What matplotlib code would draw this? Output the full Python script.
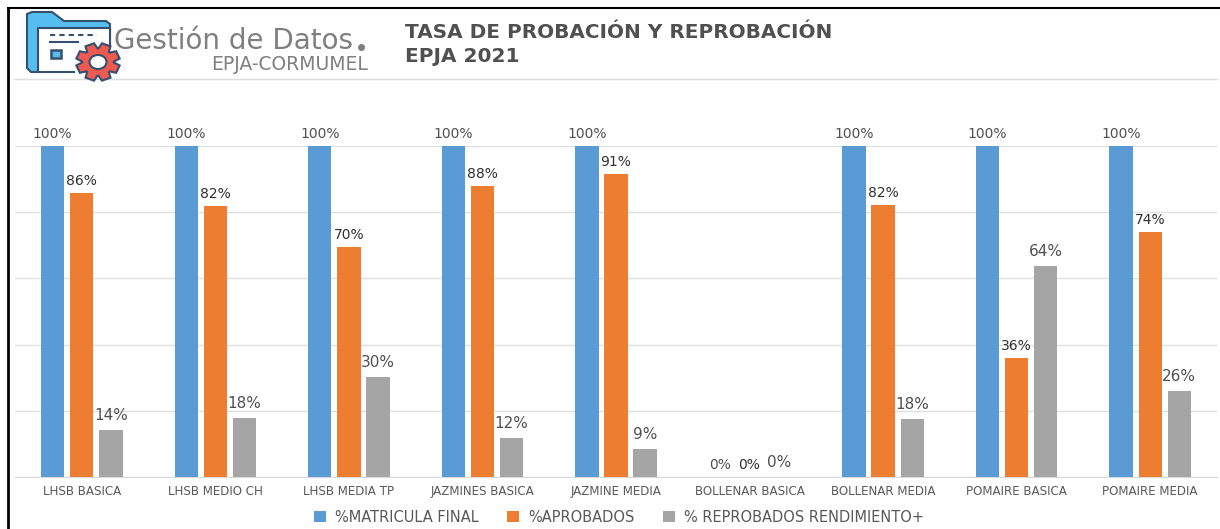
#!/usr/bin/env python3
"""Tasa de probacion y reprobacion EPJA 2021, grouped bars with header logo."""

import numpy as np
import matplotlib
matplotlib.use("Agg")
import matplotlib.pyplot as plt
from matplotlib.patches import Ellipse, Polygon, Rectangle

categories = [
    "LHSB BASICA", "LHSB MEDIO CH", "LHSB MEDIA TP", "JAZMINES BASICA",
    "JAZMINE MEDIA", "BOLLENAR BASICA", "BOLLENAR MEDIA", "POMAIRE BASICA",
    "POMAIRE MEDIA",
]
matricula = [100, 100, 100, 100, 100, 0, 100, 100, 100]
aprobados = [85.8, 81.9, 69.6, 87.9, 91.4, 0, 82.2, 36, 74]
reprobados = [14.2, 17.8, 30.2, 11.8, 8.6, 0, 17.5, 63.7, 26]

series_names = ["%MATRICULA FINAL", "%APROBADOS", "% REPROBADOS RENDIMIENTO+"]
series_colors = ["#5B9BD5", "#ED7D31", "#A5A5A5"]
ticks = [0, 20, 40, 60, 80, 100]

W, H = 1220, 529
plt.rcParams["font.family"] = ["DejaVu Sans"]


def fx(px):
    return px / W


def fy(py):
    return 1 - py / H


def draw_logo(fig):
    # overlay axes in pixel coordinates, y pointing down
    ax = fig.add_axes([0, 0, 1, 1], zorder=5)
    ax.set_xlim(0, W)
    ax.set_ylim(H, 0)
    ax.axis("off")
    ax.patch.set_alpha(0)
    navy = "#34506E"
    red = "#EE5A50"

    # folder back and sheet
    ax.add_patch(Polygon([(27, 68), (27, 14), (32, 12), (52, 12), (64, 21), (106, 21), (110, 24), (110, 40), (38, 72), (31, 72)],
                         closed=True, fc="#55BDF0", ec=navy, lw=1.5))
    ax.add_patch(Rectangle((38, 28), 72, 44, fc="white", ec="none"))
    ax.plot([110, 110, 38, 38, 74], [45, 28, 28, 72, 72], color=navy, lw=1.5)
    ax.plot([50, 97], [35, 35], color=navy, lw=1.5, ls=(0, (2.5, 2)))
    ax.plot([50, 78], [42, 42], color=navy, lw=1.5)
    ax.add_patch(Rectangle((51, 50), 10, 8, fc="#55BDF0", ec=navy, lw=1.8))

    # gear: eight teeth around a ring, stretched sideways like the source image
    gx, gy = 98, 62
    n = 8
    pts = []
    for k in range(n):
        a = 2 * np.pi * k / n + np.pi / 8
        for da, r in [(-0.36, 0.72), (-0.21, 1.0), (0.21, 1.0), (0.36, 0.72)]:
            pts.append((gx + 22 * r * np.cos(a + da), gy + 19 * r * np.sin(a + da)))
    ax.add_patch(Polygon(pts, closed=True, fc=red, ec=navy, lw=1.5, zorder=4))
    ax.add_patch(Ellipse((gx, gy), 17, 14, fc="white", ec=navy, lw=1.5, zorder=5))


fig = plt.figure(figsize=(W / 100, H / 100), dpi=100, facecolor="white")

# plot area: 0% at y=477, 100% at y=146
ax = fig.add_axes([fx(15), fy(477), fx(1217 - 15), fy(146) - fy(477)])
x = np.arange(len(categories))
width = 0.175
step = 0.218

series = [matricula, aprobados, reprobados]
label_sizes = [10, 10, 11]
label_colors = ["#505050", "#303030", "#505050"]
label_gaps = [12, 12, 14.5]
for i, vals in enumerate(series):
    pos = x + (i - 1) * step
    ax.bar(pos, vals, width, color=series_colors[i], label=series_names[i], zorder=3)
    for p, v in zip(pos, vals):
        ax.annotate(f"{v:.0f}%", (p, v), xytext=(0, label_gaps[i] * 0.72), textcoords="offset points",
                    ha="center", va="center", fontsize=label_sizes[i], color=label_colors[i], zorder=4)

ax.set_xlim(-0.5, len(categories) - 0.5)
ax.set_ylim(0, 100)
ax.set_yticks(ticks)
ax.set_yticklabels([])
ax.set_xticks(x)
ax.set_xticklabels(categories, fontsize=8.6, color="#595959")
ax.tick_params(axis="both", length=0)
ax.tick_params(axis="x", pad=6)
ax.grid(axis="y", color="#E0E0E0", lw=1, zorder=0)
for side in ["top", "right", "left"]:
    ax.spines[side].set_visible(False)
ax.spines["bottom"].set_color("#D9D9D9")

fig.legend(loc="center", bbox_to_anchor=(fx(619), fy(517)), ncol=3, frameon=False,
           fontsize=10.5, handlelength=0.8, handleheight=0.8, handletextpad=0.6,
           columnspacing=2.0, labelcolor="#595959")

# header
fig.text(fx(405), fy(32), "TASA DE PROBACIÓN Y REPROBACIÓN", fontsize=14.4, fontweight="bold",
         color="#505050", va="center")
fig.text(fx(405), fy(56), "EPJA 2021", fontsize=14.4, fontweight="bold", color="#505050", va="center")
fig.text(fx(114), fy(41), "Gestión de Datos", fontsize=20, color="#7F7F7F", va="center")
fig.add_artist(plt.Line2D([fx(361)], [fy(47)], marker="o", ms=4, color="#7F7F7F"))
fig.text(fx(368), fy(64), "EPJA-CORMUMEL", fontsize=13.5, color="#7F7F7F", va="center", ha="right")
fig.add_artist(plt.Line2D([fx(14), fx(1217)], [fy(79), fy(79)], color="#DDDDDD", lw=1))

# outer frame
fig.add_artist(plt.Line2D([fx(8), fx(8)], [fy(8), fy(529)], color="black", lw=2))
fig.add_artist(plt.Line2D([fx(8), fx(1220)], [fy(8), fy(8)], color="black", lw=1.5))

draw_logo(fig)

fig.savefig("out.png", dpi=100)
